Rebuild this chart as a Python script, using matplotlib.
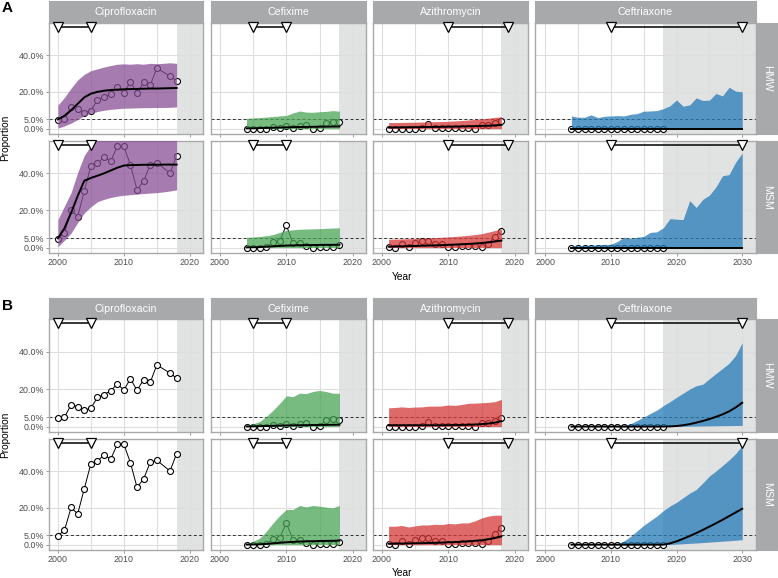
import matplotlib
matplotlib.use("Agg")
from matplotlib import pyplot as plt

plt.rcParams['font.family'] = ['Liberation Sans', 'DejaVu Sans']

W, H = 778, 578

drugs = ["Ciprofloxacin", "Cefixime", "Azithromycin", "Ceftriaxone"]
groups = ["HMW", "MSM"]
band_colors = ["#884f96", "#4aa456", "#d43838", "#247ab7"]
periods = [(2000, 2005), (2005, 2010), (2010, 2019), (2010, 2030)]
y_ticks = [0, 5, 20, 40]
y_labels = ["0.0%", "5.0%", "20.0%", "40.0%"]

# observed proportions (%)
cip_years = [2000, 2001, 2002, 2003, 2004, 2005, 2006, 2007, 2008, 2009,
             2010, 2011, 2012, 2013, 2014, 2015, 2017, 2018]
cip_obs_hmw = [4.7, 5.0, 11.6, 10.5, 8.7, 9.8, 15.6, 17.1, 19.1, 22.7,
               19.5, 25.5, 19.3, 25.1, 23.6, 32.9, 28.5, 25.8]
cip_obs_msm = [4.9, 7.8, 20.2, 16.7, 30.4, 44.0, 45.3, 48.9, 46.4, 54.5,
               54.5, 44.5, 31.1, 35.8, 44.7, 45.8, 40.0, 49.5]

cfx_years = list(range(2004, 2019))
cfx_obs_hmw = [0, 0, 0, 0, 0.9, 0.5, 1.6, 0.2, 1.6, 2.0, 0, 0.4, 3.3, 3.8, 3.5]
cfx_obs_msm = [0, 0, 0, 0.4, 3.1, 3.5, 12.0, 2.4, 2.7, 0.9, 0, 0.4, 0.4, 0.4, 1.3]

azi_years = list(range(2001, 2019))
azi_obs_hmw = [0, 0, 0, 0, 0, 0.4, 2.4, 0.4, 0.4, 0.4, 0.4, 0.4, 0.4, 0,
               1.8, 1.8, 2.9, 4.4]
azi_obs_msm = [0.4, 0, 2.2, 0.4, 2.4, 3.4, 3.5, 1.8, 1.8, 0.4, 0.4, 0.7, 0.7,
               1.1, 0.4, 2.0, 5.9, 9.2]

cro_years = list(range(2004, 2019))
cro_obs_hmw = [0, 0, 0, 0, 0, 0, 0, 0, 0, 0, 0, 0, 0, 0, 0]
cro_obs_msm = [0, 0, 0, 0, 0, 0, 0, 0, 0, 0, 0, 0, 0, 0, 0]

# model fits, panel A
cip_fit_years = list(range(2000, 2019))
a_cip_fit_hmw = [5.0, 7.0, 10.0, 13.5, 17.0, 19.0, 20.0, 20.6, 21.0, 21.2,
                 21.4, 21.5, 21.6, 21.7, 21.8, 21.8, 21.9, 22.0, 22.1]
a_cip_lo_hmw = [0.3, 1.5, 3.0, 5.0, 7.0, 8.4, 9.3, 10.0, 10.5, 10.8,
                11.1, 11.2, 11.3, 11.4, 11.4, 11.5, 11.5, 11.6, 11.8]
a_cip_hi_hmw = [12.8, 17.0, 22.0, 26.5, 29.5, 31.5, 32.5, 33.5, 34.3, 35.0,
                35.2, 35.0, 35.3, 35.0, 35.5, 35.3, 35.5, 35.8, 35.5]
a_cip_fit_msm = [5.0, 10.5, 18.7, 27.8, 36.0, 37.5, 38.7, 40.0, 41.5, 43.0,
                 44.2, 44.4, 44.5, 44.6, 44.6, 44.6, 44.7, 44.7, 44.7]
a_cip_lo_msm = [0.5, 4.0, 7.8, 13.5, 18.7, 22.0, 24.7, 26.0, 27.0, 27.7,
                28.2, 28.5, 28.8, 29.1, 29.4, 29.6, 30.0, 30.5, 31.1]
a_cip_hi_msm = [15.1, 22.4, 29.6, 40.5, 49.6, 55.0, 58.5, 60.0, 61.0, 61.5,
                62.0, 62.0, 62.0, 62.0, 62.0, 62.0, 62.0, 62.0, 62.0]

cfx_zero = [0, 0, 0, 0, 0, 0, 0, 0, 0, 0, 0, 0, 0, 0, 0]
a_cfx_fit_hmw = [0.1, 0.2, 0.3, 0.4, 0.5, 0.6, 0.7, 0.8, 0.9, 0.95, 1.0, 1.05, 1.1, 1.15, 1.2]
a_cfx_hi_hmw = [5.6, 5.8, 6.0, 6.3, 6.6, 6.9, 7.2, 8.5, 9.6, 9.0, 8.9, 9.2, 9.4, 9.8, 9.5]
a_cfx_fit_msm = [0.1, 0.2, 0.3, 0.5, 0.7, 0.9, 1.1, 1.2, 1.3, 1.35, 1.4, 1.45, 1.5, 1.5, 1.55]
a_cfx_hi_msm = [5.5, 5.7, 6.0, 6.4, 7.0, 8.2, 9.2, 9.6, 9.9, 10.0, 10.1, 10.2, 10.4, 10.5, 10.7]

azi_zero = [0, 0, 0, 0, 0, 0, 0, 0, 0, 0, 0, 0, 0, 0, 0, 0, 0, 0]
a_azi_fit_hmw = [0.6, 0.65, 0.7, 0.75, 0.8, 0.85, 0.9, 0.95, 1.0, 1.05,
                 1.1, 1.2, 1.3, 1.4, 1.5, 1.6, 1.8, 2.0]
a_azi_hi_hmw = [3.3, 3.3, 3.4, 3.5, 3.5, 3.6, 3.7, 3.8, 3.9, 4.0,
                4.2, 4.4, 4.7, 5.0, 5.3, 5.7, 6.1, 6.5]
a_azi_fit_msm = [0.5, 0.6, 0.7, 0.8, 0.9, 1.0, 1.1, 1.2, 1.35, 1.5,
                 1.65, 1.8, 2.0, 2.2, 2.5, 2.8, 3.3, 3.8]
a_azi_hi_msm = [4.5, 4.6, 4.7, 4.8, 4.9, 5.0, 5.2, 5.4, 5.6, 5.8,
                6.0, 6.3, 6.6, 7.0, 7.5, 8.3, 9.2, 10.0]

cro_fit_years = list(range(2004, 2031))
cro_zero = [0, 0, 0, 0, 0, 0, 0, 0, 0, 0, 0, 0, 0, 0, 0, 0, 0, 0, 0, 0,
            0, 0, 0, 0, 0, 0, 0]
a_cro_hi_hmw = [6.9, 6.2, 6.2, 7.5, 6.0, 6.7, 6.9, 7.1, 6.9, 7.8, 8.2, 9.5, 9.6, 9.8,
                10.9, 12.4, 15.6, 12.2, 12.9, 16.7, 15.3, 15.5, 19.1, 17.8, 22.5, 20.4, 20.0]
a_cro_hi_msm = [1.0, 1.0, 1.2, 1.3, 1.5, 1.7, 1.8, 3.3, 5.6, 4.9, 5.6, 6.0, 8.2, 8.5,
                10.7, 15.6, 15.3, 15.1, 25.3, 21.6, 26.0, 28.2, 32.7, 38.7, 39.3, 46.0, 50.9]

# model fits, panel B
b_cfx_fit_hmw = [0.05, 0.1, 0.2, 0.3, 0.4, 0.5, 0.6, 0.65, 0.7, 0.75, 0.8, 0.85, 0.9, 0.95, 1.0]
b_cfx_hi_hmw = [0.5, 1.5, 2.7, 5.5, 8.7, 12.4, 16.4, 16.0, 17.8, 17.6, 18.7, 19.3, 18.7, 17.8, 17.8]
b_cfx_fit_msm = [0.05, 0.1, 0.2, 0.4, 0.7, 1.0, 1.3, 1.5, 1.7, 1.8, 1.9, 2.0, 2.05, 2.1, 2.2]
b_cfx_hi_msm = [0.5, 1.8, 3.6, 7.3, 11.8, 15.8, 19.1, 19.1, 21.3, 20.5, 21.3, 20.9, 20.4, 20.0, 21.3]

b_azi_fit_hmw = [0.7, 0.7, 0.7, 0.7, 0.7, 0.7, 0.7, 0.7, 0.7, 0.75,
                 0.8, 0.85, 0.95, 1.1, 1.3, 1.6, 2.1, 2.9]
b_azi_hi_hmw = [10.0, 10.2, 10.5, 10.2, 10.4, 10.5, 10.9, 10.9, 11.0, 11.5,
                11.3, 11.8, 12.4, 12.5, 12.7, 12.9, 13.3, 14.5]
b_azi_fit_msm = [0.5, 0.55, 0.6, 0.7, 0.75, 0.8, 0.9, 1.0, 1.1, 1.3,
                 1.4, 1.6, 1.8, 2.1, 2.4, 2.9, 3.6, 4.5]
b_azi_hi_msm = [10.0, 10.0, 10.4, 9.6, 10.2, 10.7, 10.7, 11.1, 10.9, 11.5,
                11.3, 11.8, 11.8, 12.9, 14.5, 15.5, 16.0, 16.0]

b_cro_fit_hmw = [0, 0, 0, 0, 0, 0, 0, 0, 0, 0, 0, 0, 0, 0, 0,
                 0.1, 0.3, 0.7, 1.3, 2.1, 3.0, 4.0, 5.2, 6.5, 8.1, 10.2, 12.7]
b_cro_lo_hmw = [0, 0, 0, 0, 0, 0, 0, 0, 0, 0, 0, 0, 0, 0, 0,
                0.05, 0.1, 0.15, 0.2, 0.25, 0.3, 0.35, 0.4, 0.45, 0.5, 0.55, 0.6]
b_cro_hi_hmw = [0, 0, 0, 0, 0, 0, 0, 0.2, 0.7, 1.5, 3.2, 5.1, 7.0, 8.8, 11.2,
                13.3, 15.6, 17.8, 20.0, 21.8, 22.6, 25.5, 28.3, 31.0, 33.8, 38.0, 44.7]
b_cro_fit_msm = [0, 0, 0, 0, 0, 0, 0, 0, 0, 0, 0, 0, 0, 0, 0,
                 0.7, 1.8, 3.2, 4.7, 6.3, 8.0, 9.8, 11.6, 13.5, 15.5, 17.5, 19.5]
b_cro_lo_msm = [0, 0, 0, 0, 0, 0, 0, 0, 0, 0, 0, 0, 0, 0, 0,
                0.1, 0.3, 0.5, 0.7, 0.9, 1.1, 1.4, 1.6, 1.9, 2.1, 2.4, 2.7]
b_cro_hi_msm = [0, 0, 0, 0, 0, 0, 0, 0.3, 2.0, 4.5, 7.5, 10.5, 13.0, 15.5, 18.5,
                21.0, 23.0, 25.5, 28.0, 30.0, 33.5, 37.3, 40.0, 43.0, 46.0, 49.5, 53.7]

observed = {
    "Ciprofloxacin": (cip_years, cip_obs_hmw, cip_obs_msm),
    "Cefixime": (cfx_years, cfx_obs_hmw, cfx_obs_msm),
    "Azithromycin": (azi_years, azi_obs_hmw, azi_obs_msm),
    "Ceftriaxone": (cro_years, cro_obs_hmw, cro_obs_msm),
}

fits_a = {
    ("Ciprofloxacin", "HMW"): (cip_fit_years, a_cip_fit_hmw, a_cip_lo_hmw, a_cip_hi_hmw),
    ("Ciprofloxacin", "MSM"): (cip_fit_years, a_cip_fit_msm, a_cip_lo_msm, a_cip_hi_msm),
    ("Cefixime", "HMW"): (cfx_years, a_cfx_fit_hmw, cfx_zero, a_cfx_hi_hmw),
    ("Cefixime", "MSM"): (cfx_years, a_cfx_fit_msm, cfx_zero, a_cfx_hi_msm),
    ("Azithromycin", "HMW"): (azi_years, a_azi_fit_hmw, azi_zero, a_azi_hi_hmw),
    ("Azithromycin", "MSM"): (azi_years, a_azi_fit_msm, azi_zero, a_azi_hi_msm),
    ("Ceftriaxone", "HMW"): (cro_fit_years, cro_zero, cro_zero, a_cro_hi_hmw),
    ("Ceftriaxone", "MSM"): (cro_fit_years, cro_zero, cro_zero, a_cro_hi_msm),
}

fits_b = {
    ("Cefixime", "HMW"): (cfx_years, b_cfx_fit_hmw, cfx_zero, b_cfx_hi_hmw),
    ("Cefixime", "MSM"): (cfx_years, b_cfx_fit_msm, cfx_zero, b_cfx_hi_msm),
    ("Azithromycin", "HMW"): (azi_years, b_azi_fit_hmw, azi_zero, b_azi_hi_hmw),
    ("Azithromycin", "MSM"): (azi_years, b_azi_fit_msm, azi_zero, b_azi_hi_msm),
    ("Ceftriaxone", "HMW"): (cro_fit_years, b_cro_fit_hmw, b_cro_lo_hmw, b_cro_hi_hmw),
    ("Ceftriaxone", "MSM"): (cro_fit_years, b_cro_fit_msm, b_cro_lo_msm, b_cro_hi_msm),
}

# layout in pixels
col_px = [(49, 203), (211, 366), (373, 528), (535, 756)]
xlims = [(1998.65, 2022.0), (1998.65, 2022.0), (1998.65, 2022.0), (1998.45, 2032.1)]
ylim = (-2.9, 57.4)
strip_col = "#a7a9ab"
border_col = "#a9a9a9"
grid_col = "#dedede"
shade_col = "#e1e3e3"


def px_axes(fig, x0, y0, x1, y1):
    return fig.add_axes([x0 / W, 1 - y1 / H, (x1 - x0) / W, (y1 - y0) / H])


def draw_block(fig, tag, strip_y, rows_y, year_y, fits):
    for j, drug in enumerate(drugs):
        x0, x1 = col_px[j]
        sax = px_axes(fig, x0, strip_y[0], x1, strip_y[1])
        sax.set_facecolor(strip_col)
        sax.set_xticks([])
        sax.set_yticks([])
        for s in sax.spines.values():
            s.set_color(strip_col)
        sax.text(0.5, 0.5, drug, color="white", fontsize=7.7,
                 ha="center", va="center", transform=sax.transAxes)

        years, obs_h, obs_m = observed[drug]
        for i, grp in enumerate(groups):
            y0, y1 = rows_y[i]
            ax = px_axes(fig, x0, y0, x1, y1)
            lo_x, hi_x = xlims[j]
            ax.set_xlim(lo_x, hi_x)
            ax.set_ylim(*ylim)

            ax.axvspan(2018, hi_x, color=shade_col, lw=0, zorder=0)
            top_year = 2030 if j == 3 else 2020
            for gx in range(2000, top_year + 1, 5):
                ax.axvline(gx, color=grid_col, lw=0.8, zorder=0.5)
            for gy in y_ticks:
                ax.axhline(gy, color=grid_col, lw=0.8, zorder=0.5)
            ax.axhline(5, color="#333333", lw=0.7, ls=(0, (3, 2.5)), zorder=1)

            obs = obs_h if grp == "HMW" else obs_m
            ax.plot(years, obs, color="black", lw=0.7, marker="o", ms=4.3,
                    mfc="white", mec="black", mew=0.8, zorder=2)

            if (drug, grp) in fits:
                fy, fit, lo, hi = fits[(drug, grp)]
                ax.fill_between(fy, lo, hi, color=band_colors[j], alpha=0.75,
                                lw=0, zorder=3)
                ax.plot(fy, fit, color="black", lw=1.4, zorder=4)

            p0, p1 = periods[j]
            ax.plot([p0, p1], [55, 55], color="black", lw=1.1, zorder=5)
            ax.plot([p0, p1], [55, 55], ls="none", marker="v", ms=7.5,
                    mfc="white", mec="black", mew=0.9, zorder=6, clip_on=False)

            for s in ax.spines.values():
                s.set_color(border_col)
                s.set_linewidth(1.0)
            ax.tick_params(length=2, width=0.6, color="#888888", pad=1.5,
                           labelsize=6.4, labelcolor="#4d4d4d")
            ax.set_xticks(list(range(2000, top_year + 1, 10)))
            ax.set_yticks(y_ticks)
            if i == 1:
                ax.set_xticklabels([str(v) for v in range(2000, top_year + 1, 10)])
            else:
                ax.set_xticklabels([])
            if j == 0:
                ax.set_yticklabels(y_labels)
            else:
                ax.set_yticklabels([])
                ax.tick_params(axis="y", length=0)

            if j == 3:
                rax = px_axes(fig, 756, y0, 778, y1)
                rax.set_facecolor(strip_col)
                rax.set_xticks([])
                rax.set_yticks([])
                for s in rax.spines.values():
                    s.set_color(strip_col)
                rax.text(0.5, 0.5, grp, color="white", fontsize=7.7, rotation=-90,
                         ha="center", va="center", transform=rax.transAxes)

    fig.text(2 / W, 1 - (strip_y[0] + 1) / H, tag, fontsize=11, fontweight="bold",
             ha="left", va="top")
    mid = (rows_y[0][0] + rows_y[1][1]) / 2
    fig.text(5 / W, 1 - mid / H, "Proportion", fontsize=7.3, rotation=90,
             ha="center", va="center")
    fig.text(402.5 / W, 1 - year_y / H, "Year", fontsize=7.3,
             ha="center", va="center")


fig = plt.figure(figsize=(W / 100, H / 100), dpi=100)
draw_block(fig, "A", (0.5, 23), [(23, 134), (141, 253)], 277, fits_a)
draw_block(fig, "B", (298, 319), [(319, 432), (439, 550)], 573, fits_b)
fig.savefig("out.png", dpi=100)
